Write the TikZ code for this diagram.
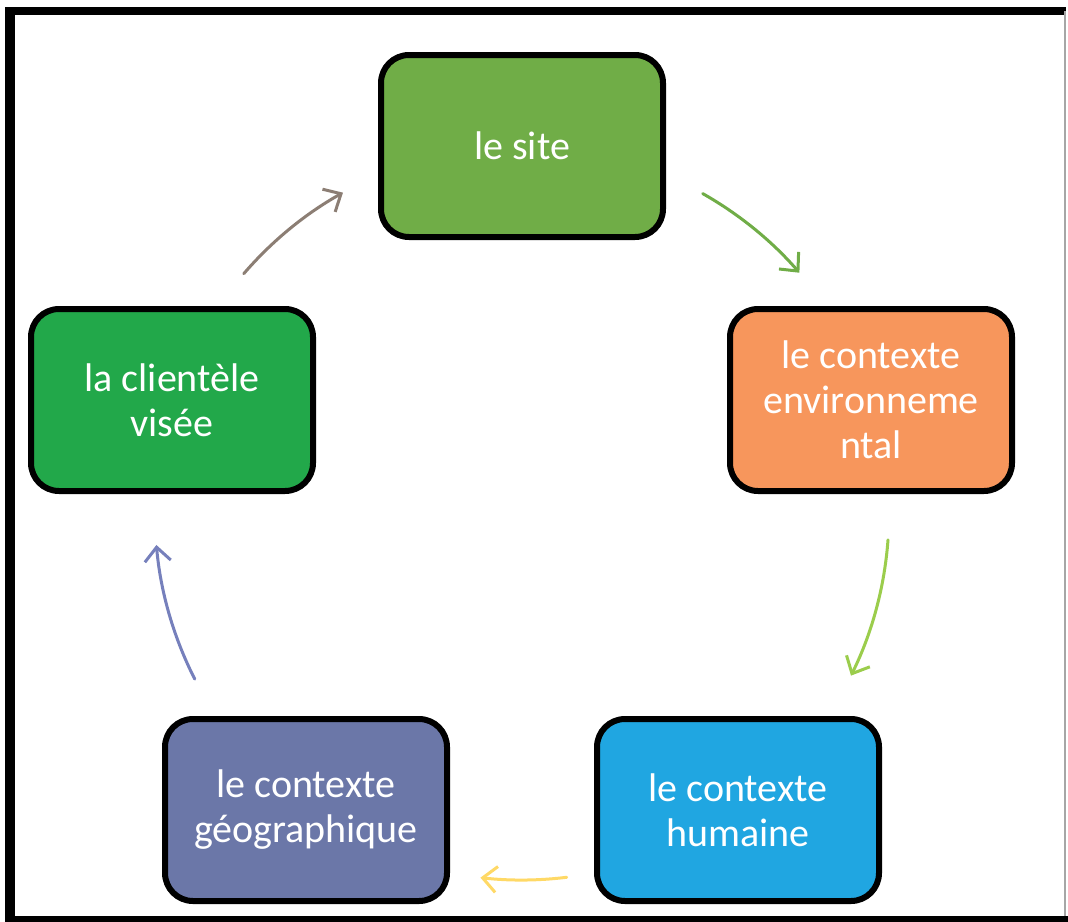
\documentclass[tikz,border=0pt]{standalone}
\usepackage{fontspec}
\setmainfont{Carlito}
\usetikzlibrary{arrows.meta,calc}
\definecolor{cSite}{RGB}{112,173,71}
\definecolor{cEnv}{RGB}{247,150,92}
\definecolor{cHum}{RGB}{32,166,225}
\definecolor{cGeo}{RGB}{107,119,168}
\definecolor{cCli}{RGB}{34,168,74}
\definecolor{aBrown}{RGB}{140,126,116}
\definecolor{aGreen}{RGB}{112,173,71}
\definecolor{aLime}{RGB}{155,205,76}
\definecolor{aYellow}{RGB}{255,217,102}
\definecolor{aBlue}{RGB}{118,128,188}
\tikzset{
  stagebox/.style={draw=black, line width=6pt, rounded corners=28pt,
    minimum width=282pt, minimum height=182pt, align=center,
    text=white, font=\fontsize{40}{45}\selectfont, inner sep=0pt},
  cyc/.style={line width=3pt, line cap=round,
    -{Straight Barb[length=14pt,width=26pt,line width=3pt]}}
}
\begin{document}
\begin{tikzpicture}[x=1pt,y=-1pt]
\useasboundingbox (0,0) rectangle (1068,921);
\fill[white] (0,0) rectangle (1068,921);
% frame
\draw[line width=10pt] (10,11) -- (10,926);
\draw[line width=8pt] (5,11) -- (1066,11);
\draw[line width=6pt] (5,919) -- (1068,919);
\draw[line width=2pt, black!35] (1065,11) -- (1065,916);
% boxes
\node[stagebox, fill=cSite] (site) at (522,146) {le site};
\node[stagebox, fill=cEnv]  (env)  at (871,400) {le contexte\\environneme\\ntal};
\node[stagebox, fill=cHum]  (hum)  at (738,810) {le contexte\\humaine};
\node[stagebox, fill=cGeo]  (geo)  at (306,810) {le contexte\\géographique};
\node[stagebox, fill=cCli]  (cli)  at (172,400) {la clientèle\\visée};
% arrows: arcs of a circle round the centre of the cycle (y axis points down)
\coordinate (ctr) at (522,513);
\coordinate (a1) at ($(ctr)+(-60.5:367)$);
\coordinate (a2) at ($(ctr)+(4.2:367)$);
\coordinate (a3) at ($(ctr)+(83:367)$);
\coordinate (a4) at ($(ctr)+(153.1:367)$);
\coordinate (a5) at ($(ctr)+(-139.3:367)$);
\draw[cyc, aGreen]  (a1) arc[start angle=-60.5, end angle=-40.9, radius=367];
\draw[cyc, aLime]   (a2) arc[start angle=4.2,   end angle=26.3,  radius=367];
\draw[cyc, aYellow] (a3) arc[start angle=83,    end angle=96.5,  radius=367];
\draw[cyc, aBlue]   (a4) arc[start angle=153.1, end angle=175,   radius=367];
\draw[cyc, aBrown]  (a5) arc[start angle=-139.3,end angle=-119.2,radius=367];
\end{tikzpicture}
\end{document}
